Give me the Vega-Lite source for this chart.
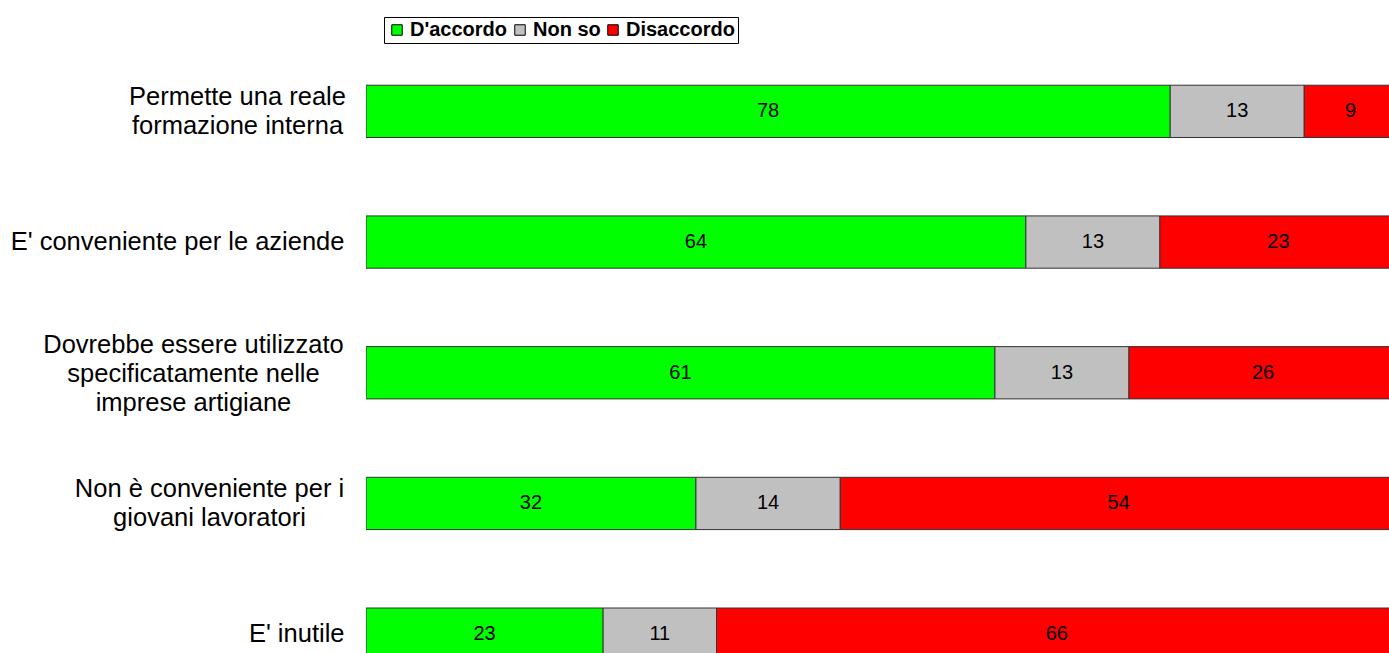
{
  "$schema": "https://vega.github.io/schema/vega-lite/v6.json",
  "width": 1023,
  "height": 607,
  "autosize": {"type": "none"},
  "padding": {"left": 366, "top": 46, "right": 0, "bottom": 0},
  "background": "white",
  "config": {"view": {"stroke": null}, "font": "Liberation Sans"},
  "data": {
    "values": [
      {"cat": "Permette una reale|formazione interna", "resp": "D'accordo", "ord": 1, "v": 78},
      {"cat": "Permette una reale|formazione interna", "resp": "Non so", "ord": 2, "v": 13},
      {"cat": "Permette una reale|formazione interna", "resp": "Disaccordo", "ord": 3, "v": 9},
      {"cat": "E' conveniente per le aziende", "resp": "D'accordo", "ord": 1, "v": 64},
      {"cat": "E' conveniente per le aziende", "resp": "Non so", "ord": 2, "v": 13},
      {"cat": "E' conveniente per le aziende", "resp": "Disaccordo", "ord": 3, "v": 23},
      {"cat": "Dovrebbe essere utilizzato|specificatamente nelle|imprese artigiane", "resp": "D'accordo", "ord": 1, "v": 61},
      {"cat": "Dovrebbe essere utilizzato|specificatamente nelle|imprese artigiane", "resp": "Non so", "ord": 2, "v": 13},
      {"cat": "Dovrebbe essere utilizzato|specificatamente nelle|imprese artigiane", "resp": "Disaccordo", "ord": 3, "v": 26},
      {"cat": "Non è conveniente per i|giovani lavoratori", "resp": "D'accordo", "ord": 1, "v": 32},
      {"cat": "Non è conveniente per i|giovani lavoratori", "resp": "Non so", "ord": 2, "v": 14},
      {"cat": "Non è conveniente per i|giovani lavoratori", "resp": "Disaccordo", "ord": 3, "v": 54},
      {"cat": "E' inutile", "resp": "D'accordo", "ord": 1, "v": 23},
      {"cat": "E' inutile", "resp": "Non so", "ord": 2, "v": 11},
      {"cat": "E' inutile", "resp": "Disaccordo", "ord": 3, "v": 66}
    ]
  },
  "transform": [
    {"stack": "v", "groupby": ["cat"], "sort": [{"field": "ord", "order": "ascending"}], "as": ["v0", "v1"]},
    {"calculate": "(datum.v0 + datum.v1) / 2", "as": "mid"}
  ],
  "layer": [
    {
      "mark": {"type": "bar", "stroke": "#333333", "strokeWidth": 1, "clip": true},
      "encoding": {
        "y": {
          "field": "cat",
          "type": "nominal",
          "sort": null,
          "scale": {"range": [0, 653.5], "paddingInner": 0.6, "paddingOuter": 0.3},
          "axis": {
            "title": null,
            "domain": false,
            "ticks": false,
            "labelExpr": "split(datum.label, '|')",
            "labelFont": "Liberation Sans",
            "labelFontSize": 25.5,
            "labelLineHeight": 29,
            "labelColor": "black",
            "labelLimit": 0,
            "labelBaseline": "middle",
            "labelAlign": {"condition": {"test": "indexof(datum.value, '|') >= 0", "value": "center"}, "value": "right"},
            "labelOffset": {
              "condition": [
                {"test": "indexof(datum.value, 'Permette') == 0", "value": -14},
                {"test": "indexof(datum.value, 'Dovrebbe') == 0", "value": -28},
                {"test": "indexof(datum.value, 'Non') == 0", "value": -14}
              ],
              "value": 0
            },
            "labelPadding": {
              "condition": [
                {"test": "indexof(datum.value, 'Permette') == 0", "value": 129},
                {"test": "indexof(datum.value, 'Dovrebbe') == 0", "value": 173},
                {"test": "indexof(datum.value, 'Non') == 0", "value": 157}
              ],
              "value": 22
            }
          }
        },
        "x": {"field": "v0", "type": "quantitative", "scale": {"domain": [0, 99.22], "nice": false, "zero": true}, "axis": null},
        "x2": {"field": "v1"},
        "color": {
          "field": "resp",
          "type": "nominal",
          "scale": {"domain": ["D'accordo", "Non so", "Disaccordo"], "range": ["#00FF00", "#C0C0C0", "#FF0000"]},
          "legend": {
            "orient": "none",
            "legendX": 18,
            "legendY": -29,
            "direction": "horizontal",
            "title": null,
            "strokeColor": "black",
            "padding": 3,
            "symbolType": "square",
            "symbolSize": 110,
            "symbolStrokeColor": "black",
            "symbolStrokeWidth": 1,
            "symbolOpacity": 1,
            "labelFont": "Liberation Sans",
            "labelFontSize": 20,
            "labelFontWeight": "bold",
            "labelColor": "black",
            "labelOffset": 3,
            "columnPadding": 2
          }
        }
      }
    },
    {
      "mark": {"type": "text", "fontSize": 20, "color": "black", "font": "Liberation Sans", "baseline": "middle", "align": "center"},
      "encoding": {
        "y": {"field": "cat", "type": "nominal", "sort": null},
        "x": {"field": "mid", "type": "quantitative"},
        "text": {"field": "v", "type": "quantitative"}
      }
    }
  ]
}
